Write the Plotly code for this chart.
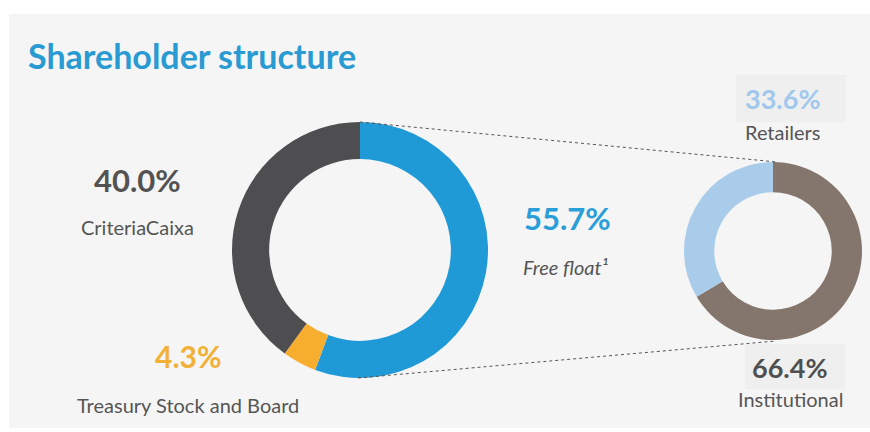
import plotly.graph_objects as go

W, H = 870, 432

# Data
main_labels = ["Free float", "Treasury Stock and Board", "CriteriaCaixa"]
main_values = [55.7, 4.3, 40.0]
main_colors = ["#1f9ad6", "#f7ae2f", "#4e4e50"]

ff_labels = ["Institutional", "Retailers"]
ff_values = [66.4, 33.6]
ff_colors = ["#84766c", "#a9cceb"]

title_text = "Shareholder structure"


def px(x):
    return x / W


def py(y):
    return 1 - y / H


fig = go.Figure()

fig.add_trace(go.Pie(
    labels=main_labels, values=main_values, sort=False, direction="clockwise",
    rotation=0, hole=0.71, marker=dict(colors=main_colors, line=dict(width=0)),
    textinfo="none", hoverinfo="skip", showlegend=False,
    domain=dict(x=[px(232), px(488)], y=[py(378), py(122)]),
))

fig.add_trace(go.Pie(
    labels=ff_labels, values=ff_values, sort=False, direction="clockwise",
    rotation=0, hole=0.66, marker=dict(colors=ff_colors, line=dict(width=0)),
    textinfo="none", hoverinfo="skip", showlegend=False,
    domain=dict(x=[px(684), px(862)], y=[py(340), py(162)]),
))

shapes = [
    # panel background
    dict(type="rect", xref="paper", yref="paper", x0=px(9), x1=px(870), y0=py(428), y1=py(14),
         fillcolor="#f5f5f5", line=dict(width=0), layer="below"),
    # label boxes
    dict(type="rect", xref="paper", yref="paper", x0=px(736), x1=px(846), y0=py(122), y1=py(75),
         fillcolor="#efefef", line=dict(width=0), layer="below"),
    dict(type="rect", xref="paper", yref="paper", x0=px(745), x1=px(845), y0=py(389), y1=py(344),
         fillcolor="#efefef", line=dict(width=0), layer="below"),
    # connector lines
    dict(type="line", xref="paper", yref="paper", x0=px(360), y0=py(122), x1=px(777), y1=py(162),
         line=dict(color="#555555", width=1, dash="dot")),
    dict(type="line", xref="paper", yref="paper", x0=px(358), y0=py(378), x1=px(776), y1=py(341),
         line=dict(color="#555555", width=1, dash="dot")),
]

FONT = "Lato"


def ann(x, y, text, size, color, bold=False, italic=False, xanchor="center"):
    t = text
    if bold:
        t = "<b>" + t + "</b>"
    if italic:
        t = "<i>" + t + "</i>"
    return dict(x=px(x), y=py(y), xref="paper", yref="paper", text=t, showarrow=False,
                xanchor=xanchor, yanchor="middle",
                font=dict(family=FONT, size=size, color=color))


annotations = [
    ann(26, 55, title_text, 34, "#2a9ad2", bold=True, xanchor="left"),
    ann(137, 180, "40.0%", 31, "#525252", bold=True),
    ann(137, 227, "CriteriaCaixa", 20, "#555555"),
    ann(567, 218, "55.7%", 31, "#2a9ed8", bold=True),
    ann(566, 267, "Free float\u00b9", 20, "#555555", italic=True),
    ann(188, 356, "4.3%", 30, "#f2b136", bold=True),
    ann(188, 405, "Treasury Stock and Board", 20, "#555555"),
    ann(783, 99, "33.6%", 27, "#9fc8ec", bold=True),
    ann(782, 132, "Retailers", 20, "#555555"),
    ann(790, 367, "66.4%", 27, "#4f4f4f", bold=True),
    ann(790, 399, "Institutional", 20, "#555555"),
]

fig.update_layout(
    width=W, height=H, margin=dict(l=0, r=0, t=0, b=0),
    paper_bgcolor="#ffffff", plot_bgcolor="#ffffff",
    shapes=shapes, annotations=annotations,
)

fig.write_html("out.html", config={"displayModeBar": False},
               post_script="document.body.style.margin='0';document.body.style.overflow='hidden';")
